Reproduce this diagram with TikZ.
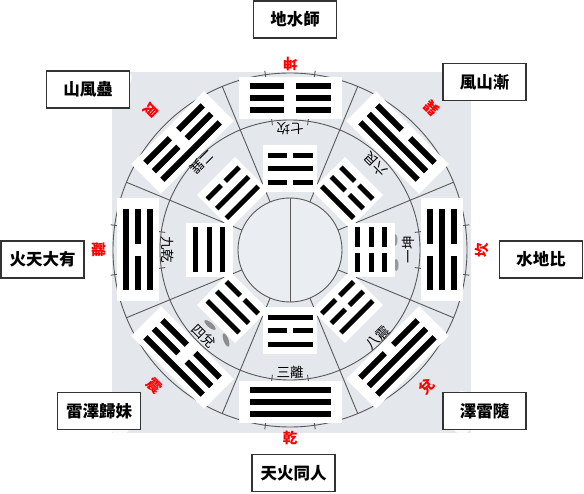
\documentclass[tikz,border=0pt]{standalone}
\usepackage{fontspec}
\setmainfont{Noto Sans CJK TC}

% one line of a trigram: type (1 = whole, 0 = broken), offset, half length, half gap
\newcommand{\yao}[4]{%
  \ifnum#1=1
    \draw (-#3,#2) -- (#3,#2);
  \else
    \draw (-#3,#2) -- (-#4,#2) (#4,#2) -- (#3,#2);
  \fi}

% outer trigram: name, angle, bottom, middle, top (bottom line lies outward)
\newcommand{\outergua}[5]{%
  \begin{scope}[shift={(#2:152)}, rotate=#2-90, line width=6]
    \node[outerbox] (#1) at (0,0) {};
    \yao{#3}{12}{40.5}{6}
    \yao{#4}{0}{40.5}{6}
    \yao{#5}{-12}{40.5}{6}
  \end{scope}}

% inner trigram: name, angle, bottom, middle, top
\newcommand{\innergua}[5]{%
  \begin{scope}[shift={(#2:81)}, rotate=#2-90, line width=5]
    \node[innerbox] (#1) at (0,0) {};
    \yao{#3}{13.5}{22.5}{3}
    \yao{#4}{0}{22.5}{3}
    \yao{#5}{-13.5}{22.5}{3}
  \end{scope}}

\begin{document}
\begin{tikzpicture}[
			x=1pt, y=1pt,
			line cap=butt,
			ring/.style={draw=black!65, line width=0.9},
			outerbox/.style={rectangle, fill=white, minimum width=103, minimum height=42, inner sep=0, transform shape},
			innerbox/.style={rectangle, fill=white, minimum width=54, minimum height=47, inner sep=0, transform shape},
			namebox/.style={draw=black!80, line width=1.1, fill=white, minimum width=83, minimum height=37, inner sep=0, font=\bfseries\fontsize{16.5}{17}\selectfont},
			gualabel/.style={text=red, inner sep=0, font=\bfseries\fontsize{14.5}{15}\selectfont},
			ringtext/.style={inner sep=0, font=\fontsize{13.5}{14}\selectfont}
			]
			\useasboundingbox (0,0) rectangle (584,493);
			
			% Background
			\fill[fill={rgb,255:red,228;green,232;blue,237}] (112,60) rectangle (471,421);
			\fill[white, opacity=0.8] (118,415) ellipse (14 and 10);
			\fill[white, opacity=0.8] (120,75) ellipse (12 and 18);
			\fill[white, opacity=0.8] (462,80) ellipse (12 and 22);
			
			\begin{scope}[shift={(290,243)}]
			% Circles and dividing lines
			\fill[fill={rgb,255:red,234;green,237;blue,241}] (0,0) circle (52);
			\draw[ring] (0,0) circle (52);
			\draw[ring] (0,0) circle (130);
			\draw[ring] (0,0) circle (177);
			\draw[ring] (90:52) -- (270:52);
			\foreach \a in {22.5,67.5,...,337.5}
				\draw[ring] (\a:52) -- (\a:177);
			\foreach \a in {-8,8,82,98,172,188,262,278} {
				\draw[ring] (\a:173) -- (\a:181);
				\draw[ring] (\a:126) -- (\a:134);
			}
			
			% Smudges
			\fill[black!45, rotate around={-40:(-80,-75)}] (-80,-75) ellipse (7 and 2.5);
			\fill[black!45, rotate around={-70:(-64,-90)}] (-64,-90) ellipse (7 and 2.5);
			\fill[black!40] (105,10) ellipse (2.5 and 6);
			\fill[black!40] (106,-15) ellipse (2.5 and 6);
			
			% Outer trigrams
			\outergua{kunout}{90}{0}{0}{0}
			\outergua{genout}{135}{0}{0}{1}
			\outergua{xunout}{45}{0}{1}{1}
			\outergua{liout}{180}{1}{0}{1}
			\outergua{kanout}{0}{0}{1}{0}
			\outergua{zhenout}{225}{1}{0}{0}
			\outergua{duiout}{315}{1}{1}{0}
			\outergua{qianout}{270}{1}{1}{1}
			
			% Inner trigrams
			\innergua{kanin}{90}{0}{1}{0}
			\innergua{xunin}{135}{0}{1}{1}
			\innergua{genin}{45}{0}{0}{1}
			\innergua{qianin}{180}{1}{1}{1}
			\innergua{kunin}{0}{0}{0}{0}
			\innergua{duiin}{225}{1}{1}{0}
			\innergua{zhenin}{315}{1}{0}{0}
			\innergua{liin}{270}{1}{0}{1}
			
			% Numbers on the ring
			\node[ringtext, rotate=180] (n7) at (90:121) {七坎};
			\node[ringtext, rotate=225] (n2) at (135:124) {二巽};
			\node[ringtext, rotate=135] (n6) at (45:121) {六艮};
			\node[ringtext, rotate=270] (n9) at (180:122) {九乾};
			\node[ringtext, rotate=90] (n1) at (0:118) {一坤};
			\node[ringtext, rotate=315] (n4) at (225:122) {四兌};
			\node[ringtext, rotate=45] (n8) at (315:124) {八震};
			\node[ringtext] (n3) at (270:122) {三離};
			
			% Red labels
			\node[gualabel, rotate=180] (kun) at (90:186) {坤};
			\node[gualabel, rotate=225] (gen) at (135:197) {艮};
			\node[gualabel, rotate=135] (xun) at (45:200) {巽};
			\node[gualabel, rotate=270] (li) at (180:191) {離};
			\node[gualabel, rotate=90] (kan) at (0:192) {坎};
			\node[gualabel, rotate=315] (zhen) at (225:192) {震};
			\node[gualabel, rotate=45] (dui) at (315:193) {兌};
			\node[gualabel] (qian) at (270:188) {乾};
			\end{scope}
			
			% Hexagram names
			\node[namebox] (shi) at (295,473.5) {地水師};
			\node[namebox] (gu) at (88,403.5) {山風蠱};
			\node[namebox] (jian) at (484.5,411) {風山漸};
			\node[namebox] (dayou) at (42.5,233.5) {火天大有};
			\node[namebox] (bi) at (541,233.5) {水地比};
			\node[namebox] (guimei) at (99,82) {雷澤歸妹};
			\node[namebox] (sui) at (484.5,82) {澤雷隨};
			\node[namebox] (tongren) at (293.5,20) {天火同人};
		\end{tikzpicture}
\end{document}
